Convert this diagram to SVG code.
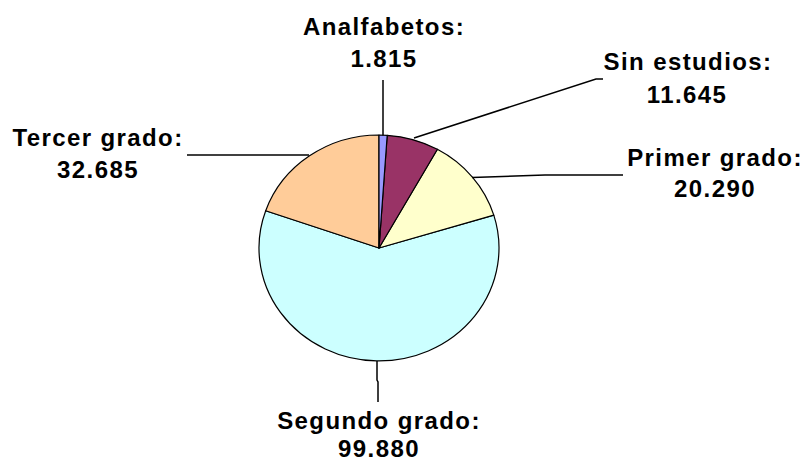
<svg xmlns="http://www.w3.org/2000/svg" width="806" height="463" viewBox="0 0 806 463">
  <style>
    .slice { stroke: #000; stroke-width: 1.2; stroke-linejoin: round; }
    .leader { fill: none; stroke: #000; stroke-width: 1.5; }
    .lbl { font-family: "Liberation Sans", Arial, sans-serif; font-weight: bold; font-size: 24px; letter-spacing: 1.4px; fill: #000; text-anchor: middle; }
  </style>
  <rect width="806" height="463" fill="#fff"/>
  <g id="pie">
    <g id="slice-segundo"><path class="slice" fill="#CCFFFF" d="M379,248 L493.8,215.1 A120,113 0 1 1 265.7,210.7 Z"/></g>
    <g id="slice-tercer"><path class="slice" fill="#FFCC99" d="M379,248 L265.7,210.7 A120,113 0 0 1 379,135 Z"/></g>
    <g id="slice-primer"><path class="slice" fill="#FFFFCC" d="M379,248 L437.4,149.3 A120,113 0 0 1 493.8,215.1 Z"/></g>
    <g id="slice-sin"><path class="slice" fill="#993366" d="M379,248 L387.2,135.3 A120,113 0 0 1 437.4,149.3 Z"/></g>
    <g id="slice-analfabetos"><path class="slice" fill="#9999FF" d="M379,248 L379,135 A120,113 0 0 1 387.2,135.3 Z"/></g>
  </g>
  <g id="connectors">
    <polyline class="leader" points="383,80 383,135.5"/>
    <polyline class="leader" points="414,138 596,79 603,79"/>
    <polyline class="leader" points="472,177.5 545,175 623,175"/>
    <polyline class="leader" points="309,155 187,155"/>
    <polyline class="leader" points="377,361 377,380 378,382 378,402"/>
  </g>
  <g id="label-analfabetos">
    <text class="lbl" x="384" y="35">Analfabetos:</text>
    <text class="lbl" x="384" y="67">1.815</text>
  </g>
  <g id="label-sin">
    <text class="lbl" x="688" y="70">Sin estudios:</text>
    <text class="lbl" x="687" y="103">11.645</text>
  </g>
  <g id="label-primer">
    <text class="lbl" x="715" y="166">Primer grado:</text>
    <text class="lbl" x="715" y="197">20.290</text>
  </g>
  <g id="label-tercer">
    <text class="lbl" x="98" y="146">Tercer grado:</text>
    <text class="lbl" x="98" y="178">32.685</text>
  </g>
  <g id="label-segundo">
    <text class="lbl" x="379" y="429">Segundo grado:</text>
    <text class="lbl" x="379" y="457">99.880</text>
  </g>
</svg>
